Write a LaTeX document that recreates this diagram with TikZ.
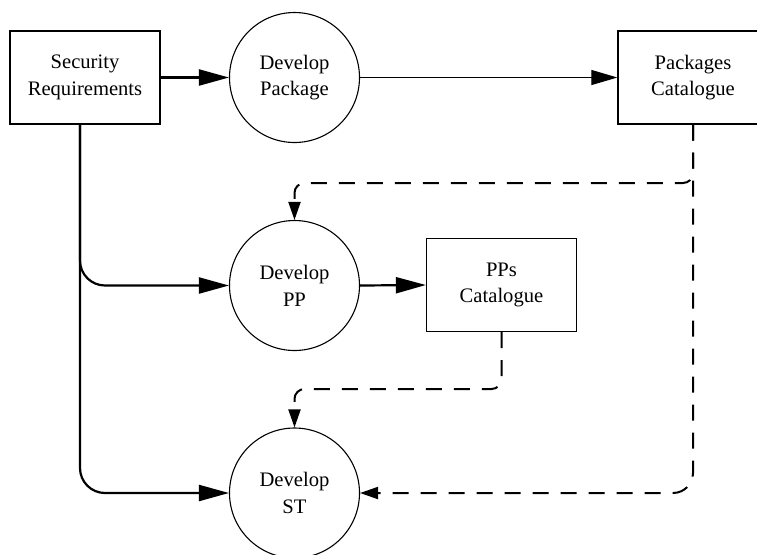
\documentclass[tikz,border=0pt]{standalone}
\usepackage{fontspec}
\setmainfont{Liberation Serif}
\newfontfamily\diagfont{Liberation Serif}
\usetikzlibrary{arrows.meta}
\begin{document}
\begin{tikzpicture}[x=0.5pt,y=-0.5pt,
  every node/.style={font=\diagfont\fontsize{10.3}{13.4}\selectfont, align=center, inner sep=0pt},
  boxnode/.style={draw, line width=0.65pt, minimum width=75pt, minimum height=46.5pt},
  procnode/.style={draw, circle, line width=0.55pt, minimum size=65pt},
  thickflow/.style={line width=1.1pt, -{Triangle[length=15pt,width=8pt]}},
  thinflow/.style={line width=0.55pt, -{Triangle[length=13pt,width=7.5pt]}},
  dashflow/.style={line width=1pt, dash pattern=on 8pt off 6pt, -{Triangle[length=9pt,width=6pt]}}
]
\useasboundingbox (0,0) rectangle (757,554);
\node[boxnode] (sr) at (85,77.5) {Security\\Requirements};
\node[procnode] (dp) at (294.5,77.5) {Develop\\Package};
\node[boxnode] (pc) at (693,77.5) {Packages\\Catalogue};
\node[procnode] (dpp) at (294.5,285.5) {Develop\\PP};
\node[boxnode] (ppc) at (501.5,285) {PPs\\Catalogue};
\node[procnode] (dst) at (294.5,493) {Develop\\ST};
\coordinate (j1) at (294.5,183);
\coordinate (j2) at (294.5,389);

\draw[thickflow] (sr.east) -- (dp.west);
\draw[thinflow] (dp.east) -- (pc.west);
\draw[thickflow] (dpp.east) -- (ppc.west);
\draw[thickflow, rounded corners=12.5pt] ([xshift=-2.5pt]sr.south) |- (dpp.west);
\draw[thickflow, rounded corners=12.5pt] ([xshift=-2.5pt]sr.south) |- (dst.west);
\draw[dashflow, rounded corners=5pt] (pc.south) |- (j1) -- (dpp.north);
\draw[dashflow, rounded corners=10pt] (pc.south) |- (dst.east);
\draw[dashflow, rounded corners=5pt] (ppc.south) |- (j2) -- (dst.north);
\end{tikzpicture}
\end{document}
